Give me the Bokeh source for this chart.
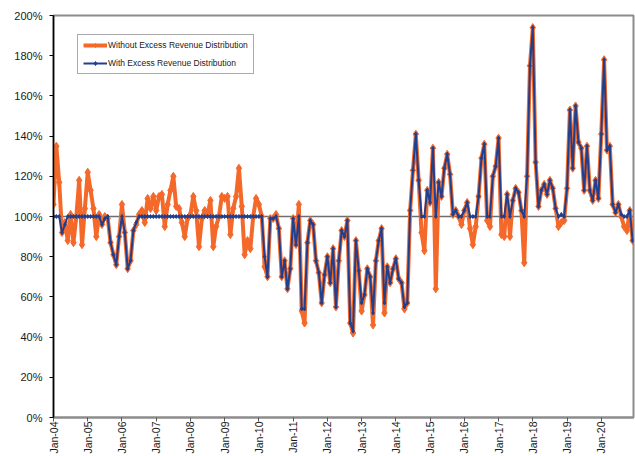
import math
from bokeh.plotting import figure
from bokeh.models import Range1d, FixedTicker, PrintfTickFormatter, Span, Legend, LegendItem, ColumnDataSource
from bokeh.embed import file_html
from bokeh.resources import INLINE

# Monthly values (%), Jan-04 .. Dec-20
without_excess = [
    106, 135, 117, 92, 97, 88, 101, 87, 100, 118, 86, 104,     # 2004
    122, 113, 104, 90, 101, 96, 100, 99, 87, 81, 76, 90,       # 2005
    106, 92, 74, 78, 93, 96, 101, 103, 97, 109, 104, 110,      # 2006
    103, 110, 111, 95, 106, 113, 120, 105, 104, 97, 90, 99,    # 2007
    101, 110, 103, 85, 99, 103, 101, 108, 85, 95, 100, 110,    # 2008
    109, 110, 91, 104, 110, 124, 105, 81, 88, 84, 100, 109,    # 2009
    106, 100, 75, 70, 99, 99, 101, 94, 70, 78, 64, 74,         # 2010
    99, 86, 106, 53, 47, 87, 98, 96, 78, 72, 57, 71,           # 2011
    80, 67, 84, 55, 78, 93, 90, 98, 47, 42, 88, 73,            # 2012
    53, 61, 74, 70, 46, 78, 88, 94, 52, 75, 67, 74,            # 2013
    79, 69, 67, 54, 57, 103, 123, 141, 118, 92, 83, 113,       # 2014
    107, 134, 64, 117, 110, 124, 131, 121, 101, 103, 100, 96,  # 2015
    103, 107, 94, 86, 95, 110, 129, 136, 98, 95, 120, 125,     # 2016
    139, 91, 90, 111, 90, 108, 114, 112, 103, 77, 120, 175,    # 2017
    194, 127, 105, 113, 116, 111, 118, 114, 104, 95, 97, 98,   # 2018
    114, 153, 124, 155, 137, 134, 113, 135, 113, 108, 118, 109,  # 2019
    141, 178, 133, 135, 106, 102, 106, 100, 95, 93, 103, 88,   # 2020
]

with_excess = [
    100, 100, 100, 92, 96, 100, 100, 100, 100, 100, 100, 100,  # 2004
    100, 100, 100, 100, 100, 96, 99, 100, 87, 81, 76, 90,      # 2005
    100, 92, 74, 78, 93, 97, 100, 100, 100, 100, 100, 100,     # 2006
    100, 100, 100, 100, 100, 100, 100, 100, 100, 100, 100, 100,  # 2007
    100, 100, 100, 100, 100, 100, 100, 100, 100, 100, 100, 100,  # 2008
    100, 100, 100, 100, 100, 100, 100, 100, 100, 100, 100, 100,  # 2009
    100, 100, 80, 70, 99, 99, 100, 94, 70, 78, 64, 74,         # 2010
    99, 86, 100, 54, 54, 87, 98, 96, 78, 72, 57, 71,           # 2011
    80, 67, 84, 55, 78, 93, 90, 98, 47, 43, 88, 73,            # 2012
    57, 61, 74, 70, 52, 78, 88, 94, 57, 75, 67, 74,            # 2013
    79, 69, 67, 55, 57, 103, 123, 141, 118, 100, 100, 113,     # 2014
    107, 134, 100, 117, 110, 124, 131, 121, 101, 103, 100, 100,  # 2015
    103, 107, 100, 100, 100, 110, 129, 136, 100, 100, 120, 125,  # 2016
    139, 100, 100, 111, 100, 108, 114, 112, 103, 100, 120, 175,  # 2017
    194, 127, 105, 113, 116, 111, 118, 114, 104, 100, 101, 100,  # 2018
    114, 153, 124, 155, 137, 134, 113, 135, 113, 108, 118, 109,  # 2019
    141, 178, 133, 135, 106, 102, 106, 101, 100, 100, 103, 88,   # 2020
]

tick_labels = ["Jan-04", "Jan-05", "Jan-06", "Jan-07", "Jan-08", "Jan-09",
               "Jan-10", "Jan-11", "Jan-12", "Jan-13", "Jan-14", "Jan-15",
               "Jan-16", "Jan-17", "Jan-18", "Jan-19", "Jan-20"]
y_ticks = [0, 20, 40, 60, 80, 100, 120, 140, 160, 180, 200]

ORANGE = "#F4692A"
BLUE = "#1F3F8F"
FONT = "Liberation Sans"

months = list(range(len(without_excess)))
src = ColumnDataSource(dict(m=months, wo=without_excess, w=with_excess))

p = figure(width=635, height=456, output_backend="svg", toolbar_location=None,
           x_range=Range1d(0, len(months) - 0.7), y_range=Range1d(0, 200),
           min_border_left=53, min_border_right=2, min_border_top=15, min_border_bottom=39)
p.background_fill_color = "white"
p.border_fill_color = "white"
p.xgrid.visible = False
p.ygrid.visible = False
p.outline_line_color = "#8c8c8c"
p.outline_line_width = 2

# Y axis
p.yaxis.ticker = FixedTicker(ticks=y_ticks)
p.yaxis.formatter = PrintfTickFormatter(format="%d%%")
p.yaxis.axis_line_color = "black"
p.yaxis.axis_line_width = 1.5
p.yaxis.major_tick_line_color = "black"
p.yaxis.major_tick_in = 0
p.yaxis.major_tick_out = 4
p.yaxis.minor_tick_line_color = None
p.yaxis.major_label_standoff = 7

# X axis
tick_pos = [12 * i for i in range(len(tick_labels))]
p.xaxis.ticker = FixedTicker(ticks=tick_pos)
p.xaxis.major_label_overrides = {pos: lab for pos, lab in zip(tick_pos, tick_labels)}
p.xaxis.major_label_orientation = math.pi / 2
p.xaxis.axis_line_color = "#8c8c8c"
p.xaxis.axis_line_width = 2
p.xaxis.major_tick_line_color = "#555555"
p.xaxis.major_tick_in = 0
p.xaxis.major_tick_out = 4
p.xaxis.minor_tick_line_color = None
p.xaxis.major_label_standoff = 0

for ax in (p.xaxis, p.yaxis):
    ax.major_label_text_font = FONT
    ax.major_label_text_color = "#1a1a1a"
p.yaxis.major_label_text_font_size = "11px"
p.xaxis.major_label_text_font_size = "10.5px"

# 100% reference line
p.add_layout(Span(location=100, dimension="width", line_color="#6e6e6e",
                  line_width=1.5, level="underlay"))

ol = p.line("m", "wo", source=src, line_color=ORANGE, line_width=4)
os_ = p.scatter("m", "wo", source=src, marker="diamond", size=8, color=ORANGE)
bl = p.line("m", "w", source=src, line_color=BLUE, line_width=2)
bs = p.scatter("m", "w", source=src, marker="diamond", size=4, color=BLUE)

legend = Legend(items=[
    LegendItem(label="Without Excess Revenue Distribution", renderers=[ol, os_]),
    LegendItem(label="With Excess Revenue Distribution", renderers=[bl, bs]),
], location=(24, 343))
legend.label_text_font = FONT
legend.label_text_font_size = "8.5px"
legend.label_text_color = "#1a1a1a"
legend.glyph_width = 24
legend.glyph_height = 10
legend.label_standoff = 1
legend.spacing = 8
legend.padding = 5
legend.margin = 0
legend.border_line_color = "#555555"
legend.border_line_width = 1
legend.background_fill_alpha = 1
p.add_layout(legend)

open("out.html", "w").write(file_html(p, INLINE))
